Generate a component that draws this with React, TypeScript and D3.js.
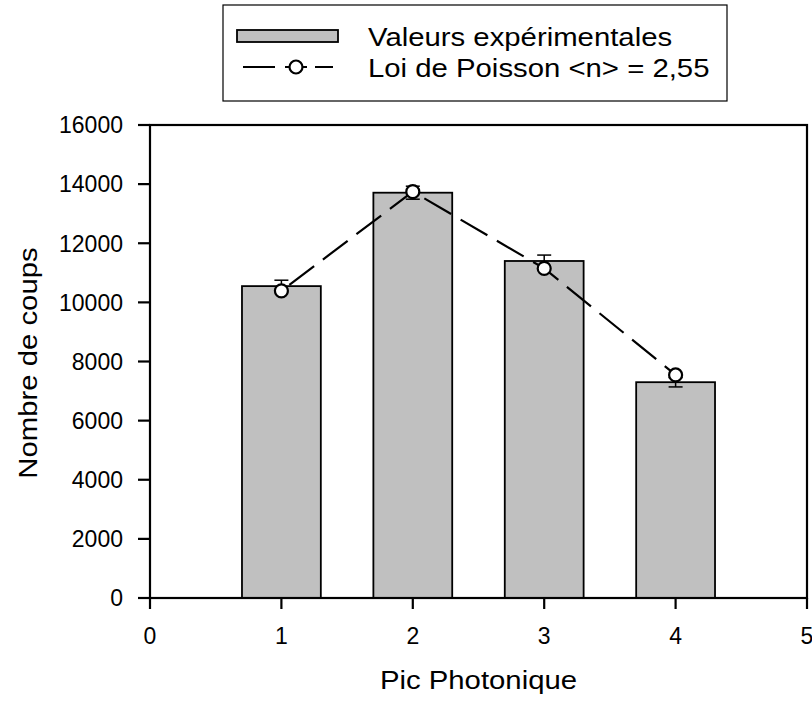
import React, { useEffect, useRef } from 'react';
import * as d3 from 'd3';

// experimental photon peaks
const peaks = [1, 2, 3, 4];
const measured = [10550, 13710, 11400, 7300];
const measuredErr = [200, 220, 200, 160];
const poisson = [10390, 13745, 11150, 7545];

const xTicks = [0, 1, 2, 3, 4, 5];
const yTicks = [0, 2000, 4000, 6000, 8000, 10000, 12000, 14000, 16000];
const legendLabels = ['Valeurs expérimentales', 'Loi de Poisson <n> = 2,55'];

const W = 812;
const H = 702;
const FONT = '"Liberation Sans", Arial, sans-serif';

const App: React.FC = () => {
  const svgRef = useRef<SVGSVGElement>(null);

  useEffect(() => {
    document.body.style.margin = '0';
    if (!svgRef.current) return;
    const svg = d3.select(svgRef.current);
    svg.selectAll('*').remove();

    const left = 150, right = 807, top = 125, bottom = 598;
    const x = d3.scaleLinear().domain([0, 5]).range([left, right]);
    const y = d3.scaleLinear().domain([0, 16000]).range([bottom, top]);
    const barW = x(0.6) - x(0);

    // stretched text, the original glyphs are a bit wider than Arial
    const label = (
      parent: d3.Selection<SVGGElement, unknown, null, undefined>,
      tx: number, ty: number, rot: number, anchor: string, text: string
    ) => {
      parent.append('g')
        .attr('transform', `translate(${tx},${ty}) rotate(${rot}) scale(1.15,1)`)
        .append('text')
        .attr('text-anchor', anchor)
        .style('font-family', FONT)
        .style('font-size', '25.5px')
        .text(text);
    };

    const g = svg.append('g');

    // bars
    g.selectAll('rect.bar')
      .data(peaks)
      .enter()
      .append('rect')
      .attr('class', 'bar')
      .attr('x', (d) => x(d) - barW / 2)
      .attr('y', (d, i) => y(measured[i]))
      .attr('width', barW)
      .attr('height', (d, i) => bottom - y(measured[i]))
      .style('fill', '#c0c0c0')
      .style('stroke', '#000')
      .style('stroke-width', 1.8);

    // error bars
    const err = g.selectAll('g.err').data(peaks).enter().append('g').attr('class', 'err');
    err.append('line')
      .attr('x1', (d) => x(d)).attr('x2', (d) => x(d))
      .attr('y1', (d, i) => y(measured[i] - measuredErr[i]))
      .attr('y2', (d, i) => y(measured[i] + measuredErr[i]))
      .style('stroke', '#000').style('stroke-width', 1.5);
    [-1, 1].forEach((s) => {
      err.append('line')
        .attr('x1', (d) => x(d) - 7).attr('x2', (d) => x(d) + 7)
        .attr('y1', (d, i) => y(measured[i] + s * measuredErr[i]))
        .attr('y2', (d, i) => y(measured[i] + s * measuredErr[i]))
        .style('stroke', '#000').style('stroke-width', 1.5);
    });

    // poisson line
    const line = d3.line<number>()
      .x((d) => x(d))
      .y((d, i) => y(poisson[i]));
    g.append('path')
      .datum(peaks)
      .attr('d', line)
      .style('fill', 'none')
      .style('stroke', '#000')
      .style('stroke-width', 2.2)
      .style('stroke-dasharray', '31 11')
      .style('stroke-dashoffset', -10);

    g.selectAll('circle.pt')
      .data(peaks)
      .enter()
      .append('circle')
      .attr('class', 'pt')
      .attr('cx', (d) => x(d))
      .attr('cy', (d, i) => y(poisson[i]))
      .attr('r', 6.5)
      .style('fill', '#fff')
      .style('stroke', '#000')
      .style('stroke-width', 2.2);

    // frame + ticks
    const axes = svg.append('g').style('stroke', '#000').style('stroke-width', 2.2);
    axes.append('rect')
      .attr('x', left).attr('y', top).attr('width', right - left).attr('height', bottom - top)
      .style('fill', 'none');

    yTicks.forEach((t) => {
      axes.append('line').attr('x1', left - 12).attr('x2', left).attr('y1', y(t)).attr('y2', y(t));
      svg.append('text')
        .attr('x', 123)
        .attr('y', y(t))
        .attr('dy', '0.36em')
        .attr('text-anchor', 'end')
        .style('font-family', FONT)
        .style('font-size', '23px')
        .text(String(t));
    });
    xTicks.forEach((t) => {
      axes.append('line').attr('x1', x(t)).attr('x2', x(t)).attr('y1', bottom).attr('y2', bottom + 11);
      svg.append('text')
        .attr('x', x(t))
        .attr('y', 644)
        .attr('text-anchor', 'middle')
        .style('font-family', FONT)
        .style('font-size', '23px')
        .text(String(t));
    });

    const titles = svg.append('g');
    label(titles, x(2.5), 689, 0, 'middle', 'Pic Photonique');
    label(titles, 37, 363, -90, 'middle', 'Nombre de coups');

    // legend
    const lg = svg.append('g');
    lg.append('rect')
      .attr('x', 223).attr('y', 5).attr('width', 504).attr('height', 96)
      .style('fill', '#fff').style('stroke', '#000').style('stroke-width', 1.2);
    lg.append('rect')
      .attr('x', 237).attr('y', 30).attr('width', 101).attr('height', 12)
      .style('fill', '#c0c0c0').style('stroke', '#000').style('stroke-width', 1.8);
    lg.append('line')
      .attr('x1', 243).attr('x2', 333).attr('y1', 67).attr('y2', 67)
      .style('stroke', '#000').style('stroke-width', 2.2)
      .style('stroke-dasharray', '32 10 22 8 18');
    lg.append('circle')
      .attr('cx', 296).attr('cy', 67).attr('r', 6.5)
      .style('fill', '#fff').style('stroke', '#000').style('stroke-width', 2.2);
    legendLabels.forEach((t, i) => {
      label(lg, 368, 46 + i * 31, 0, 'start', t);
    });
  }, []);

  return <svg ref={svgRef} width={W} height={H} style={{ display: 'block', background: '#fff' }} />;
};

export default App;
